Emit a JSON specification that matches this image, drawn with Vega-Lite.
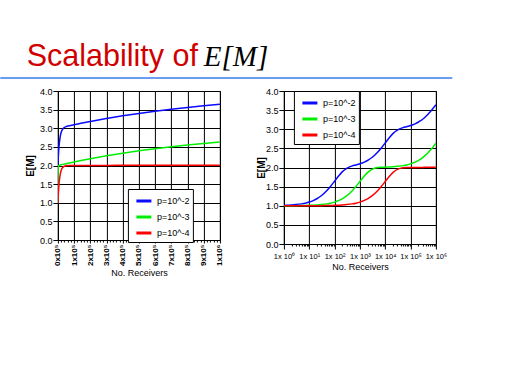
{
  "$schema": "https://vega.github.io/schema/vega-lite/v6.json",
  "padding": {"left": 0, "top": 40, "right": 0, "bottom": 0},
  "background": "white",
  "datasets": {
    "d": [
      {"N":1,"p":"p=10^-2","E":1.010},{"N":2,"p":"p=10^-2","E":1.020},{"N":3,"p":"p=10^-2","E":1.030},{"N":5,"p":"p=10^-2","E":1.049},{"N":7,"p":"p=10^-2","E":1.068},{"N":10,"p":"p=10^-2","E":1.096},{"N":15,"p":"p=10^-2","E":1.141},{"N":20,"p":"p=10^-2","E":1.183},{"N":30,"p":"p=10^-2","E":1.262},{"N":50,"p":"p=10^-2","E":1.399},{"N":70,"p":"p=10^-2","E":1.510},{"N":100,"p":"p=10^-2","E":1.642},{"N":150,"p":"p=10^-2","E":1.792},{"N":200,"p":"p=10^-2","E":1.885},{"N":300,"p":"p=10^-2","E":1.980},{"N":500,"p":"p=10^-2","E":2.043},{"N":700,"p":"p=10^-2","E":2.067},{"N":1000,"p":"p=10^-2","E":2.096},{"N":1500,"p":"p=10^-2","E":2.141},{"N":2000,"p":"p=10^-2","E":2.183},{"N":3000,"p":"p=10^-2","E":2.262},{"N":5000,"p":"p=10^-2","E":2.399},{"N":7000,"p":"p=10^-2","E":2.510},{"N":10000,"p":"p=10^-2","E":2.642},{"N":15000,"p":"p=10^-2","E":2.792},{"N":20000,"p":"p=10^-2","E":2.885},{"N":30000,"p":"p=10^-2","E":2.980},{"N":50000,"p":"p=10^-2","E":3.043},{"N":70000,"p":"p=10^-2","E":3.067},{"N":100000,"p":"p=10^-2","E":3.096},{"N":150000,"p":"p=10^-2","E":3.141},{"N":200000,"p":"p=10^-2","E":3.183},{"N":250000,"p":"p=10^-2","E":3.224},{"N":300000,"p":"p=10^-2","E":3.262},{"N":400000,"p":"p=10^-2","E":3.334},{"N":500000,"p":"p=10^-2","E":3.399},{"N":600000,"p":"p=10^-2","E":3.457},{"N":700000,"p":"p=10^-2","E":3.510},{"N":800000,"p":"p=10^-2","E":3.559},{"N":900000,"p":"p=10^-2","E":3.602},{"N":1000000,"p":"p=10^-2","E":3.642},
      {"N":1,"p":"p=10^-3","E":1.001},{"N":2,"p":"p=10^-3","E":1.002},{"N":3,"p":"p=10^-3","E":1.003},{"N":5,"p":"p=10^-3","E":1.005},{"N":7,"p":"p=10^-3","E":1.007},{"N":10,"p":"p=10^-3","E":1.010},{"N":15,"p":"p=10^-3","E":1.015},{"N":20,"p":"p=10^-3","E":1.020},{"N":30,"p":"p=10^-3","E":1.030},{"N":50,"p":"p=10^-3","E":1.049},{"N":70,"p":"p=10^-3","E":1.068},{"N":100,"p":"p=10^-3","E":1.095},{"N":150,"p":"p=10^-3","E":1.139},{"N":200,"p":"p=10^-3","E":1.181},{"N":300,"p":"p=10^-3","E":1.259},{"N":500,"p":"p=10^-3","E":1.394},{"N":700,"p":"p=10^-3","E":1.504},{"N":1000,"p":"p=10^-3","E":1.633},{"N":1500,"p":"p=10^-3","E":1.778},{"N":2000,"p":"p=10^-3","E":1.867},{"N":3000,"p":"p=10^-3","E":1.953},{"N":5000,"p":"p=10^-3","E":1.998},{"N":7000,"p":"p=10^-3","E":2.006},{"N":10000,"p":"p=10^-3","E":2.010},{"N":15000,"p":"p=10^-3","E":2.015},{"N":20000,"p":"p=10^-3","E":2.020},{"N":30000,"p":"p=10^-3","E":2.030},{"N":50000,"p":"p=10^-3","E":2.049},{"N":70000,"p":"p=10^-3","E":2.068},{"N":100000,"p":"p=10^-3","E":2.095},{"N":150000,"p":"p=10^-3","E":2.139},{"N":200000,"p":"p=10^-3","E":2.181},{"N":250000,"p":"p=10^-3","E":2.221},{"N":300000,"p":"p=10^-3","E":2.259},{"N":400000,"p":"p=10^-3","E":2.330},{"N":500000,"p":"p=10^-3","E":2.394},{"N":600000,"p":"p=10^-3","E":2.451},{"N":700000,"p":"p=10^-3","E":2.503},{"N":800000,"p":"p=10^-3","E":2.551},{"N":900000,"p":"p=10^-3","E":2.593},{"N":1000000,"p":"p=10^-3","E":2.632},
      {"N":1,"p":"p=10^-4","E":1.000},{"N":2,"p":"p=10^-4","E":1.000},{"N":3,"p":"p=10^-4","E":1.000},{"N":5,"p":"p=10^-4","E":1.001},{"N":7,"p":"p=10^-4","E":1.001},{"N":10,"p":"p=10^-4","E":1.001},{"N":15,"p":"p=10^-4","E":1.002},{"N":20,"p":"p=10^-4","E":1.002},{"N":30,"p":"p=10^-4","E":1.003},{"N":50,"p":"p=10^-4","E":1.005},{"N":70,"p":"p=10^-4","E":1.007},{"N":100,"p":"p=10^-4","E":1.010},{"N":150,"p":"p=10^-4","E":1.015},{"N":200,"p":"p=10^-4","E":1.020},{"N":300,"p":"p=10^-4","E":1.030},{"N":500,"p":"p=10^-4","E":1.049},{"N":700,"p":"p=10^-4","E":1.068},{"N":1000,"p":"p=10^-4","E":1.095},{"N":1500,"p":"p=10^-4","E":1.139},{"N":2000,"p":"p=10^-4","E":1.181},{"N":3000,"p":"p=10^-4","E":1.259},{"N":5000,"p":"p=10^-4","E":1.393},{"N":7000,"p":"p=10^-4","E":1.503},{"N":10000,"p":"p=10^-4","E":1.632},{"N":15000,"p":"p=10^-4","E":1.777},{"N":20000,"p":"p=10^-4","E":1.865},{"N":30000,"p":"p=10^-4","E":1.950},{"N":50000,"p":"p=10^-4","E":1.993},{"N":70000,"p":"p=10^-4","E":1.999},{"N":100000,"p":"p=10^-4","E":2.000},{"N":150000,"p":"p=10^-4","E":2.002},{"N":200000,"p":"p=10^-4","E":2.002},{"N":250000,"p":"p=10^-4","E":2.002},{"N":300000,"p":"p=10^-4","E":2.003},{"N":400000,"p":"p=10^-4","E":2.004},{"N":500000,"p":"p=10^-4","E":2.005},{"N":600000,"p":"p=10^-4","E":2.006},{"N":700000,"p":"p=10^-4","E":2.007},{"N":800000,"p":"p=10^-4","E":2.008},{"N":900000,"p":"p=10^-4","E":2.009},{"N":1000000,"p":"p=10^-4","E":2.010}
    ],
    "header": [{"v": 0}]
  },
  "center": true,
  "spacing": 6,
  "vconcat": [
    {
      "width": 450,
      "height": 0.001,
      "view": {"stroke": "#6a9cf4", "strokeWidth": 2},
      "data": {"name": "header"},
      "mark": {"type": "point", "opacity": 0, "size": 0},
      "encoding": {
        "x": {"field": "v", "type": "quantitative", "scale": {"domain": [-1, 1]},
          "axis": {"orient": "top", "labels": false, "ticks": false, "domain": false, "grid": false,
            "title": "Scalability of", "titleFont": "Liberation Sans", "titleFontSize": 30.5, "titleFontWeight": "normal",
            "titleColor": "#d00000", "titleAngle": 0, "titleAlign": "left", "titleBaseline": "alphabetic",
            "titleX": 25, "titleY": -13}},
        "y": {"field": "v", "type": "quantitative", "scale": {"domain": [-1, 1]},
          "axis": {"orient": "right", "values": [0], "labels": false, "domain": false, "grid": false,
            "ticks": true, "tickSize": 51, "tickColor": "transparent",
            "title": "E[M]", "titleFont": "Liberation Serif", "titleFontStyle": "italic", "titleFontSize": 29, "titleFontWeight": "normal",
            "titleColor": "black", "titleAngle": 0, "titleAlign": "left", "titleBaseline": "alphabetic",
            "titleX": -248, "titleY": -13}}
      }
    },
    {
      "spacing": 31,
      "resolve": {"scale": {"color": "independent"}, "legend": {"color": "independent"}},
      "hconcat": [
        {
          "width": 162,
          "height": 149,
          "view": {"stroke": "black"},
          "data": {"name": "d"},
          "resolve": {"axis": {"x": "independent"}},
          "encoding": {
            "y": {"field": "E", "type": "quantitative", "scale": {"domain": [0, 4], "nice": false},
              "axis": {"values": [0,0.5,1,1.5,2,2.5,3,3.5,4], "format": ".1f", "tickSize": 5, "labelPadding": 1, "labelFlush": false,
                "title": "E[M]", "titleFontWeight": "bold", "titleFontSize": 10, "titleX": -27, "titleBaseline": "middle"}}
          },
          "layer": [
            {
              "mark": {"type": "line", "strokeWidth": 1.5, "interpolate": "monotone", "clip": true},
              "encoding": {
                "x": {"field": "N", "type": "quantitative", "scale": {"domain": [0, 1000000], "nice": false},
                  "axis": {"orient": "bottom", "values": [0,100000,200000,300000,400000,500000,600000,700000,800000,900000,1000000],
                    "labelExpr": "datum.value == 1000000 ? '1x10⁶' : (datum.value / 100000) + 'x10⁵'",
                    "labelAngle": -90, "labelFontSize": 8, "labelFontWeight": "bold", "tickSize": 3, "labelPadding": 1,
                    "labelOverlap": false, "labelFlush": false, "title": "No. Receivers", "titlePadding": 3}},
                "color": {"field": "p", "type": "nominal",
                  "scale": {"domain": ["p=10^-2","p=10^-3","p=10^-4"], "range": ["#0a0aff","#00ee00","#ff0000"]},
                  "legend": {"orient": "none", "legendX": 70, "legendY": 98, "title": null,
                    "strokeColor": "black", "fillColor": "white", "padding": 3, "cornerRadius": 0,
                    "symbolType": "stroke", "symbolSize": 225, "symbolStrokeWidth": 3, "symbolOffset": 4,
                    "labelFont": "Liberation Sans", "labelFontSize": 9, "labelColor": "black", "labelOffset": 4, "rowPadding": 1}}
              }
            },
            {
              "mark": {"type": "point", "opacity": 0, "size": 0},
              "encoding": {
                "x": {"field": "N", "type": "quantitative", "scale": {"domain": [0, 1000000], "nice": false},
                  "axis": {"orient": "bottom", "values": [20000,40000,60000,80000,120000,140000,160000,180000,220000,240000,260000,280000,320000,340000,360000,380000,420000,440000,460000,480000,520000,540000,560000,580000,620000,640000,660000,680000,720000,740000,760000,780000,820000,840000,860000,880000,920000,940000,960000,980000],
                    "labels": false, "domain": false, "grid": false, "title": null, "tickSize": 2}}
              }
            }
          ]
        },
        {
          "width": 152,
          "height": 153,
          "view": {"stroke": "black"},
          "data": {"name": "d"},
          "resolve": {"axis": {"x": "independent"}},
          "encoding": {
            "y": {"field": "E", "type": "quantitative", "scale": {"domain": [0, 4], "nice": false},
              "axis": {"values": [0,0.5,1,1.5,2,2.5,3,3.5,4], "format": ".1f", "tickSize": 5, "labelPadding": 1, "labelFlush": false,
                "title": "E[M]", "titleFontWeight": "bold", "titleFontSize": 10, "titleX": -22, "titleBaseline": "middle"}}
          },
          "layer": [
            {
              "mark": {"type": "line", "strokeWidth": 1.5, "interpolate": "monotone", "clip": true},
              "encoding": {
                "x": {"field": "N", "type": "quantitative", "scale": {"type": "log", "domain": [1, 1000000], "nice": false},
                  "axis": {"orient": "bottom", "values": [1,10,100,1000,10000,100000,1000000],
                    "labelExpr": "'1x 10' + ['⁰','¹','²','³','⁴','⁵','⁶'][round(log(datum.value) / LN10)]",
                    "labelFontSize": 7.5, "tickSize": 5, "labelPadding": 3, "labelOverlap": false, "labelFlush": false,
                    "title": "No. Receivers", "titlePadding": 3}},
                "color": {"field": "p", "type": "nominal",
                  "scale": {"domain": ["p=10^-2","p=10^-3","p=10^-4"], "range": ["#0a0aff","#00ee00","#ff0000"]},
                  "legend": {"orient": "none", "legendX": 10, "legendY": 0, "title": null,
                    "strokeColor": "black", "fillColor": "white", "padding": 3, "cornerRadius": 0,
                    "symbolType": "stroke", "symbolSize": 225, "symbolStrokeWidth": 3, "symbolOffset": 4,
                    "labelFont": "Liberation Sans", "labelFontSize": 9, "labelColor": "black", "labelOffset": 4, "rowPadding": 1}}
              }
            },
            {
              "mark": {"type": "point", "opacity": 0, "size": 0},
              "encoding": {
                "x": {"field": "N", "type": "quantitative", "scale": {"type": "log", "domain": [1, 1000000], "nice": false},
                  "axis": {"orient": "bottom", "values": [2,3,4,5,6,7,8,9,20,30,40,50,60,70,80,90,200,300,400,500,600,700,800,900,2000,3000,4000,5000,6000,7000,8000,9000,20000,30000,40000,50000,60000,70000,80000,90000,200000,300000,400000,500000,600000,700000,800000,900000],
                    "labels": false, "domain": false, "grid": false, "title": null, "tickSize": 2}}
              }
            }
          ]
        }
      ]
    }
  ],
  "config": {
    "axis": {
      "labelFont": "Liberation Sans", "labelFontSize": 9, "labelColor": "black",
      "tickColor": "black", "domainColor": "black", "gridColor": "black", "gridOpacity": 1, "gridWidth": 1,
      "titleFont": "Liberation Sans", "titleFontSize": 9, "titleFontWeight": "normal", "titleColor": "black"
    }
  }
}
